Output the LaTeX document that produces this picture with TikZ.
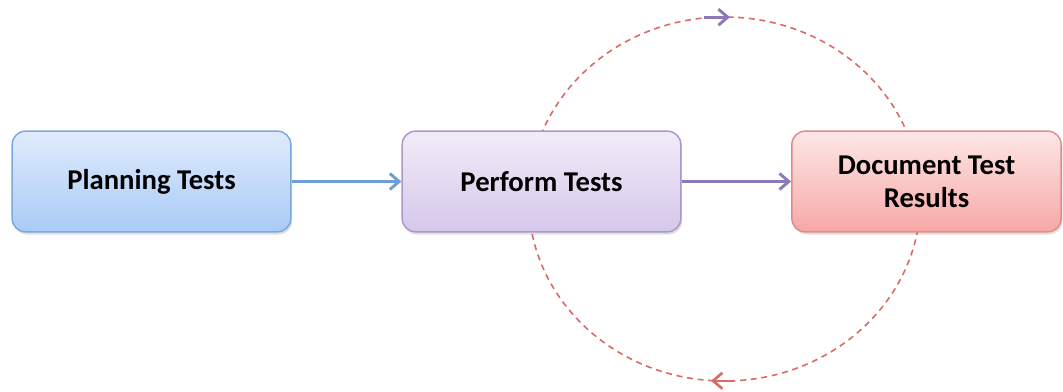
\documentclass[tikz,border=0pt]{standalone}
\usepackage{fontspec}
\setmainfont{Carlito}
\usetikzlibrary{arrows.meta,shadows}
\definecolor{blueTop}{HTML}{E0EBFC}
\definecolor{blueBot}{HTML}{A9CBF6}
\definecolor{blueLine}{HTML}{7FA8DA}
\definecolor{purpTop}{HTML}{F2ECF8}
\definecolor{purpBot}{HTML}{D5C7EA}
\definecolor{purpLine}{HTML}{A898CB}
\definecolor{redTop}{HTML}{FDE7E6}
\definecolor{redBot}{HTML}{F7A8A6}
\definecolor{redLine}{HTML}{E08C89}
\definecolor{arrBlue}{HTML}{6E9ED6}
\definecolor{arrPurp}{HTML}{8C7AB8}
\definecolor{cycRed}{HTML}{D96B68}
\tikzset{
  box/.style={draw, line width=1.1pt, rounded corners=10pt, minimum width=209pt, minimum height=75.5pt,
    align=center, font=\fontsize{21.5}{24.75}\selectfont\bfseries, text=black,
    drop shadow={opacity=0.25, shadow xshift=1pt, shadow yshift=-2pt}},
  bluebox/.style={box, draw=blueLine, top color=blueTop, bottom color=blueBot},
  purpbox/.style={box, draw=purpLine, top color=purpTop, bottom color=purpBot},
  redbox/.style={box, draw=redLine, top color=redTop, bottom color=redBot, minimum width=202pt},
  flow/.style={line width=2pt, -{Straight Barb[length=7pt,width=12pt,line width=2.2pt]}},
  cyc/.style={cycRed, line width=1.2pt, dash pattern=on 4.5pt off 3.5pt},
}
\begin{document}
\begin{tikzpicture}[x=0.75pt,y=-0.75pt]
\useasboundingbox (0,0) rectangle (1063,392);
\draw[cyc] (724.5,199) ellipse [x radius=147pt, y radius=136.5pt];
\node[bluebox] (plan) at (151.5,181.5) {Planning Tests};
\node[purpbox] (perf) at (541.5,181.5) {Perform Tests};
\node[redbox] (doc) at (926.5,181.5) {Document Test\\Results};
\draw[flow, arrBlue] (plan.east) -- (perf.west);
\draw[flow, arrPurp] (perf.east) -- (doc.west);
\coordinate (topA) at (704,17.2);
\coordinate (topB) at (730,17.2);
\coordinate (botA) at (734,380.8);
\coordinate (botB) at (711,380.8);
\draw[flow, arrPurp] (topA) -- (topB);
\draw[line width=1.8pt, cycRed, -{Straight Barb[length=7pt,width=12pt,line width=2pt]}] (botA) -- (botB);
\end{tikzpicture}
\end{document}
